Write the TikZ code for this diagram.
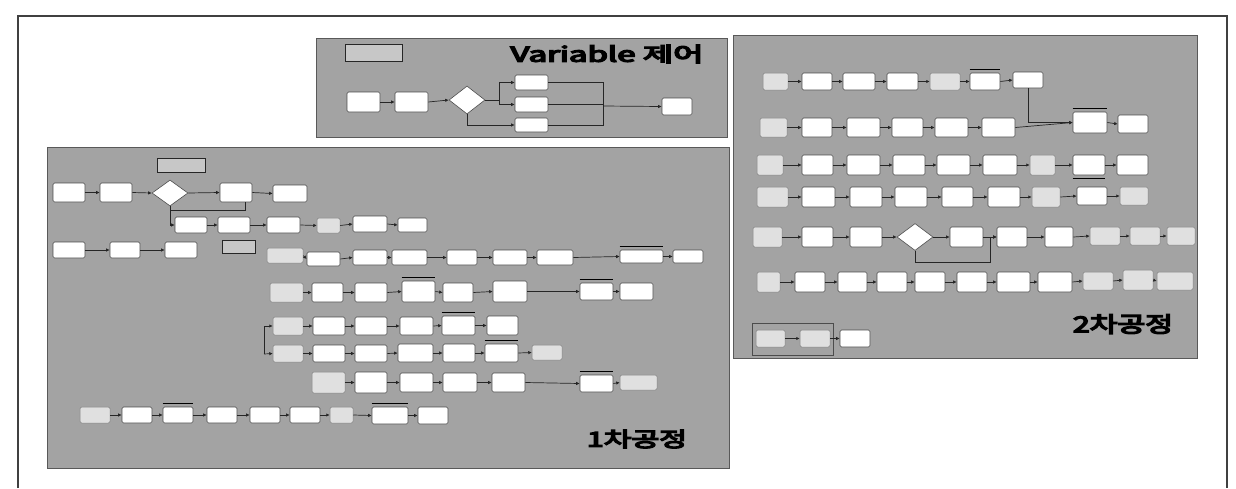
\documentclass[tikz,border=0pt]{standalone}
\usepackage{graphicx}
\usepackage{fontspec}
\newfontfamily\kr[AutoFakeBold=6]{Noto Sans CJK KR}
\usetikzlibrary{arrows.meta,shapes.geometric,fit}
\tikzset{
  panel/.style={fill=black!36,draw=black!65,line width=0.8pt},
  box/.style={draw=black!70,fill=white,line width=0.6pt,rounded corners=1.5pt,inner sep=0pt},
  lbox/.style={draw=black!50,fill=black!12,line width=0.5pt,rounded corners=1.5pt,inner sep=0pt},
  disp/.style={draw=black!85,fill=black!22,line width=1pt,inner sep=0pt},
  dia/.style={diamond,draw=black!70,fill=white,line width=0.6pt,inner sep=0pt},
  arr/.style={draw=black!85,line width=0.7pt,-{Latex[length=3.5pt,width=3.5pt]}},
  ln/.style={draw=black!85,line width=0.7pt},
  bar/.style={draw=black,line width=1.4pt},
  frame/.style={draw=black!75,line width=1.6pt},
  ttl/.style={inner sep=0pt,text=black}
}
\newcommand{\mbx}[5]{\node[box,fit={(#2,#3) (#4,#5)}] (#1) {};}
\newcommand{\mlb}[5]{\node[lbox,fit={(#2,#3) (#4,#5)}] (#1) {};}
\newcommand{\mdp}[5]{\node[disp,fit={(#2,#3) (#4,#5)}] (#1) {};}
\begin{document}
\begin{tikzpicture}[x=1pt,y=-1pt]
\useasboundingbox (0,0) rectangle (1236,488);
% outer frame
\coordinate (f1) at (18,488); \coordinate (f2) at (18,16);
\coordinate (f3) at (1227,16); \coordinate (f4) at (1227,488);
\draw[frame] (f1) -- (f2) -- (f3) -- (f4);

% ===== panels =====
\node[panel,fit={(47,147) (729,468)},inner sep=0pt] (P1) {};
\node[panel,fit={(733,35) (1197,358)},inner sep=0pt] (P2) {};
\node[panel,fit={(316,38) (727,137)},inner sep=0pt] (PV) {};

% ===== Variable panel =====
\node[ttl] (vt) at (607,54) {\resizebox{193pt}{17pt}{\kr\bfseries Variable 제어}};
\mdp{vdisp}{345}{44}{402}{61}
\mbx{v1}{347}{92}{380}{112}
\mbx{v2}{395}{92}{428}{112}
\node[dia,minimum width=36pt,minimum height=28pt] (vd) at (467,100) {};
\mbx{v3}{515}{75}{548}{90}
\mbx{v4}{515}{97}{548}{112}
\mbx{v5}{515}{118}{548}{132}
\mbx{v6}{662}{98}{692}{115}
\coordinate (vj) at (499,100);
\coordinate (vm) at (603,106);
\draw[arr] (v1.east) -- (v2.west);
\draw[arr] (v2.east) -- (vd.west);
\draw[ln] (vd.east) -- (vj);
\draw[arr] (vj) |- (v3.west);
\draw[arr] (vj) |- (v4.west);
\draw[arr] (vd.south) |- (v5.west);
\draw[ln] (v3.east) -| (vm);
\draw[ln] (v5.east) -| (vm);
\draw[ln] (v4.east) -- (v4.east -| vm);
\draw[arr] (vm) -- (v6.west);

% ===== 1st process panel =====
\node[ttl] (t1) at (637,439) {\resizebox{100pt}{17pt}{\kr\bfseries 1차공정}};
\mdp{p1disp}{157}{158}{205}{172}
\mdp{cdisp}{222}{240}{255}{253}
% row A
\mbx{a1}{53}{183}{85}{202}
\mbx{a2}{100}{183}{132}{202}
\node[dia,minimum width=36pt,minimum height=26pt] (ad) at (170,193) {};
\mbx{a4}{220}{183}{252}{202}
\mbx{a5}{273}{185}{307}{202}
\draw[arr] (a1.east) -- (a2.west);
\draw[arr] (a2.east) -- (ad.west);
\draw[arr] (ad.east) -- (a4.west);
\draw[arr] (a4.east) -- (a5.west);
\coordinate (pj1) at (170,210); \coordinate (pj2) at (245,210);
\draw[ln] (pj1) -- (pj2) -- (pj2 |- a4.south);
% row B
\mbx{b1}{175}{217}{207}{233}
\mbx{b2}{218}{217}{250}{233}
\mbx{b3}{267}{217}{300}{233}
\mlb{b4}{317}{218}{340}{233}
\mbx{b5}{353}{216}{387}{232}
\mbx{b6}{398}{218}{427}{232}
\draw[arr] (ad.south) |- (b1.west);
\draw[arr] (b1.east) -- (b2.west);
\draw[arr] (b2.east) -- (b3.west);
\draw[arr] (b3.east) -- (b4.west);
\draw[arr] (b4.east) -- (b5.west);
\draw[arr] (b5.east) -- (b6.west);
% row C
\mbx{c1}{53}{242}{85}{258}
\mbx{c2}{110}{242}{140}{258}
\mbx{c3}{165}{242}{197}{258}
\mlb{c4}{267}{248}{303}{263}
\mbx{c5}{307}{252}{340}{266}
\mbx{c6}{353}{250}{387}{265}
\mbx{c7}{392}{250}{427}{265}
\mbx{c8}{447}{250}{477}{265}
\mbx{c9}{493}{250}{527}{265}
\mbx{c10}{537}{250}{573}{265}
\mbx{c11}{620}{250}{663}{263}
\mbx{c12}{673}{250}{703}{263}
\draw[arr] (c1.east) -- (c2.west);
\draw[arr] (c2.east) -- (c3.west);
\draw[arr] (c4.east) -- (c5.west);
\draw[arr] (c5.east) -- (c6.west);
\draw[arr] (c6.east) -- (c7.west);
\draw[arr] (c7.east) -- (c8.west);
\draw[arr] (c8.east) -- (c9.west);
\draw[arr] (c9.east) -- (c10.west);
\draw[arr] (c10.east) -- (c11.west);
\draw[arr] (c11.east) -- (c12.west);
\draw[bar] ([yshift=3pt]c11.north west) -- ([yshift=3pt]c11.north east);
% row D
\mlb{d1}{270}{283}{303}{302}
\mbx{d2}{312}{283}{343}{302}
\mbx{d3}{355}{283}{387}{302}
\mbx{d4}{402}{281}{435}{302}
\mbx{d5}{443}{283}{473}{302}
\mbx{d6}{493}{281}{527}{302}
\mbx{d7}{580}{283}{613}{300}
\mbx{d8}{620}{283}{653}{300}
\draw[arr] (d1.east) -- (d2.west);
\draw[arr] (d2.east) -- (d3.west);
\draw[arr] (d3.east) -- (d4.west);
\draw[arr] (d4.east) -- (d5.west);
\draw[arr] (d5.east) -- (d6.west);
\draw[arr] (d6.east) -- (d7.west);
\draw[arr] (d7.east) -- (d8.west);
\draw[bar] ([yshift=3pt]d7.north west) -- ([yshift=3pt]d7.north east);
\draw[bar] ([yshift=3pt]d4.north west) -- ([yshift=3pt]d4.north east);
% row E
\mlb{e1}{273}{317}{303}{335}
\mbx{e2}{313}{317}{345}{335}
\mbx{e3}{355}{317}{387}{335}
\mbx{e4}{400}{317}{433}{335}
\mbx{e5}{442}{316}{475}{335}
\mbx{e6}{487}{316}{518}{335}
\draw[arr] (e1.east) -- (e2.west);
\draw[arr] (e2.east) -- (e3.west);
\draw[arr] (e3.east) -- (e4.west);
\draw[arr] (e4.east) -- (e5.west);
\draw[arr] (e5.east) -- (e6.west);
\draw[bar] ([yshift=3pt]e5.north west) -- ([yshift=3pt]e5.north east);
% row F
\mlb{f1}{273}{345}{303}{362}
\mbx{f2}{313}{345}{345}{362}
\mbx{f3}{355}{345}{387}{362}
\mbx{f4}{398}{344}{433}{362}
\mbx{f5}{443}{344}{475}{362}
\mbx{f6}{485}{344}{518}{362}
\mlb{f7}{532}{345}{562}{360}
\draw[arr] (f1.east) -- (f2.west);
\draw[arr] (f2.east) -- (f3.west);
\draw[arr] (f3.east) -- (f4.west);
\draw[arr] (f4.east) -- (f5.west);
\draw[arr] (f5.east) -- (f6.west);
\draw[arr] (f6.east) -- (f7.west);
\draw[bar] ([yshift=3pt]f6.north west) -- ([yshift=3pt]f6.north east);
\coordinate (bk1) at (264,326); \coordinate (bk2) at (264,354);
\draw[ln] (bk1) -- (bk2);
\draw[arr] (bk1) -- (e1.west);
\draw[arr] (bk2) -- (f1.west);
% row G
\mlb{g1}{312}{372}{345}{393}
\mbx{g2}{355}{372}{387}{393}
\mbx{g3}{400}{373}{433}{392}
\mbx{g4}{443}{373}{477}{392}
\mbx{g5}{492}{373}{525}{392}
\mbx{g6}{580}{375}{613}{392}
\mlb{g7}{620}{375}{657}{390}
\draw[arr] (g1.east) -- (g2.west);
\draw[arr] (g2.east) -- (g3.west);
\draw[arr] (g3.east) -- (g4.west);
\draw[arr] (g4.east) -- (g5.west);
\draw[arr] (g5.east) -- (g6.west);
\draw[arr] (g6.east) -- (g7.west);
\draw[bar] ([yshift=3pt]g6.north west) -- ([yshift=3pt]g6.north east);
% row H
\mlb{h1}{80}{407}{110}{423}
\mbx{h2}{122}{407}{152}{423}
\mbx{h3}{163}{407}{193}{423}
\mbx{h4}{207}{407}{237}{423}
\mbx{h5}{250}{407}{280}{423}
\mbx{h6}{290}{407}{320}{423}
\mlb{h7}{330}{407}{353}{423}
\mbx{h8}{372}{407}{408}{424}
\mbx{h9}{418}{407}{448}{424}
\draw[arr] (h1.east) -- (h2.west);
\draw[arr] (h2.east) -- (h3.west);
\draw[arr] (h3.east) -- (h4.west);
\draw[arr] (h4.east) -- (h5.west);
\draw[arr] (h5.east) -- (h6.west);
\draw[arr] (h6.east) -- (h7.west);
\draw[arr] (h7.east) -- (h8.west);
\draw[arr] (h8.east) -- (h9.west);
\draw[bar] ([yshift=3pt]h3.north west) -- ([yshift=3pt]h3.north east);
\draw[bar] ([yshift=3pt]h8.north west) -- ([yshift=3pt]h8.north east);

% ===== 2nd process panel =====
\node[ttl] (t2) at (1123,324) {\resizebox{100pt}{18pt}{\kr\bfseries 2차공정}};
% row 1
\mlb{r1a}{763}{73}{788}{90}
\mbx{r1b}{802}{73}{832}{90}
\mbx{r1c}{843}{73}{875}{90}
\mbx{r1d}{887}{73}{918}{90}
\mlb{r1e}{930}{73}{960}{90}
\mbx{r1f}{970}{73}{1000}{90}
\mbx{r1g}{1013}{72}{1043}{88}
\draw[arr] (r1a.east) -- (r1b.west);
\draw[arr] (r1b.east) -- (r1c.west);
\draw[arr] (r1c.east) -- (r1d.west);
\draw[arr] (r1d.east) -- (r1e.west);
\draw[arr] (r1e.east) -- (r1f.west);
\draw[arr] (r1f.east) -- (r1g.west);
\draw[bar] ([yshift=3pt]r1f.north west) -- ([yshift=3pt]r1f.north east);
% row 2
\mlb{r2a}{760}{118}{787}{137}
\mbx{r2b}{802}{118}{832}{137}
\mbx{r2c}{847}{118}{880}{137}
\mbx{r2d}{892}{118}{923}{137}
\mbx{r2e}{935}{118}{968}{137}
\mbx{r2f}{982}{118}{1015}{137}
\mbx{r2g}{1073}{112}{1107}{133}
\mbx{r2h}{1118}{115}{1148}{133}
\draw[arr] (r2a.east) -- (r2b.west);
\draw[arr] (r2b.east) -- (r2c.west);
\draw[arr] (r2c.east) -- (r2d.west);
\draw[arr] (r2d.east) -- (r2e.west);
\draw[arr] (r2e.east) -- (r2f.west);
\draw[arr] (r2f.east) -- (r2g.west);
\draw[arr] (r2g.east) -- (r2h.west);
\draw[arr] (r1g.south) |- (r2g.west);
\draw[bar] ([yshift=3pt]r2g.north west) -- ([yshift=3pt]r2g.north east);
% row 3
\mlb{r3a}{757}{155}{783}{175}
\mbx{r3b}{802}{155}{833}{175}
\mbx{r3c}{847}{155}{880}{175}
\mbx{r3d}{893}{155}{925}{175}
\mbx{r3e}{937}{155}{970}{175}
\mbx{r3f}{983}{155}{1017}{175}
\mlb{r3g}{1030}{155}{1055}{175}
\mbx{r3h}{1073}{155}{1105}{175}
\mbx{r3i}{1117}{155}{1148}{175}
\draw[arr] (r3a.east) -- (r3b.west);
\draw[arr] (r3b.east) -- (r3c.west);
\draw[arr] (r3c.east) -- (r3d.west);
\draw[arr] (r3d.east) -- (r3e.west);
\draw[arr] (r3e.east) -- (r3f.west);
\draw[arr] (r3f.east) -- (r3g.west);
\draw[arr] (r3g.east) -- (r3h.west);
\draw[arr] (r3h.east) -- (r3i.west);
\draw[bar] ([yshift=-3pt]r3h.south west) -- ([yshift=-3pt]r3h.south east);
% row 4
\mlb{r4a}{757}{187}{788}{207}
\mbx{r4b}{802}{187}{835}{207}
\mbx{r4c}{850}{187}{882}{207}
\mbx{r4d}{895}{187}{927}{207}
\mbx{r4e}{942}{187}{973}{207}
\mbx{r4f}{988}{187}{1020}{207}
\mlb{r4g}{1032}{187}{1060}{207}
\mbx{r4h}{1077}{187}{1107}{205}
\mlb{r4i}{1120}{187}{1148}{205}
\draw[arr] (r4a.east) -- (r4b.west);
\draw[arr] (r4b.east) -- (r4c.west);
\draw[arr] (r4c.east) -- (r4d.west);
\draw[arr] (r4d.east) -- (r4e.west);
\draw[arr] (r4e.east) -- (r4f.west);
\draw[arr] (r4f.east) -- (r4g.west);
\draw[arr] (r4g.east) -- (r4h.west);
\draw[arr] (r4h.east) -- (r4i.west);
% row 5
\mlb{r5a}{753}{227}{782}{247}
\mbx{r5b}{802}{227}{833}{247}
\mbx{r5c}{850}{227}{882}{247}
\node[dia,minimum width=36pt,minimum height=27pt] (r5d) at (915,237) {};
\mbx{r5e}{950}{227}{983}{247}
\mbx{r5f}{997}{227}{1027}{247}
\mbx{r5g}{1045}{227}{1073}{247}
\mlb{r5h}{1090}{227}{1120}{245}
\mlb{r5i}{1130}{227}{1160}{245}
\mlb{r5j}{1167}{227}{1195}{245}
\draw[arr] (r5a.east) -- (r5b.west);
\draw[arr] (r5b.east) -- (r5c.west);
\draw[arr] (r5c.east) -- (r5d.west);
\draw[arr] (r5d.east) -- (r5e.west);
\draw[arr] (r5e.east) -- (r5f.west);
\draw[arr] (r5f.east) -- (r5g.west);
\draw[arr] (r5g.east) -- (r5h.west);
\draw[arr] (r5h.east) -- (r5i.west);
\draw[arr] (r5i.east) -- (r5j.west);
\coordinate (lp1) at (915,262); \coordinate (lp2) at (990,262);
\draw[arr] (r5d.south) -- (lp1) -- (lp2) |- (r5f.west);
% row 6
\mlb{r6a}{757}{272}{780}{292}
\mbx{r6b}{795}{272}{825}{292}
\mbx{r6c}{838}{272}{867}{292}
\mbx{r6d}{877}{272}{907}{292}
\mbx{r6e}{915}{272}{945}{292}
\mbx{r6f}{957}{272}{987}{292}
\mbx{r6g}{997}{272}{1030}{292}
\mbx{r6h}{1038}{272}{1072}{292}
\mlb{r6i}{1083}{272}{1113}{290}
\mlb{r6j}{1123}{270}{1153}{290}
\mlb{r6k}{1157}{272}{1193}{290}
\draw[arr] (r6a.east) -- (r6b.west);
\draw[arr] (r6b.east) -- (r6c.west);
\draw[arr] (r6c.east) -- (r6d.west);
\draw[arr] (r6d.east) -- (r6e.west);
\draw[arr] (r6e.east) -- (r6f.west);
\draw[arr] (r6f.east) -- (r6g.west);
\draw[arr] (r6g.east) -- (r6h.west);
\draw[arr] (r6h.east) -- (r6i.west);
\draw[arr] (r6i.east) -- (r6j.west);
\draw[arr] (r6j.east) -- (r6k.west);
% row 7
\node[draw=black!70,line width=0.6pt,fit={(752,323) (833,355)},inner sep=0pt] (r7f) {};
\mlb{r7a}{756}{330}{785}{347}
\mlb{r7b}{800}{330}{830}{347}
\mbx{r7c}{840}{330}{870}{347}
\draw[arr] (r7a.east) -- (r7b.west);
\draw[arr] (r7b.east) -- (r7c.west);
\end{tikzpicture}
\end{document}
